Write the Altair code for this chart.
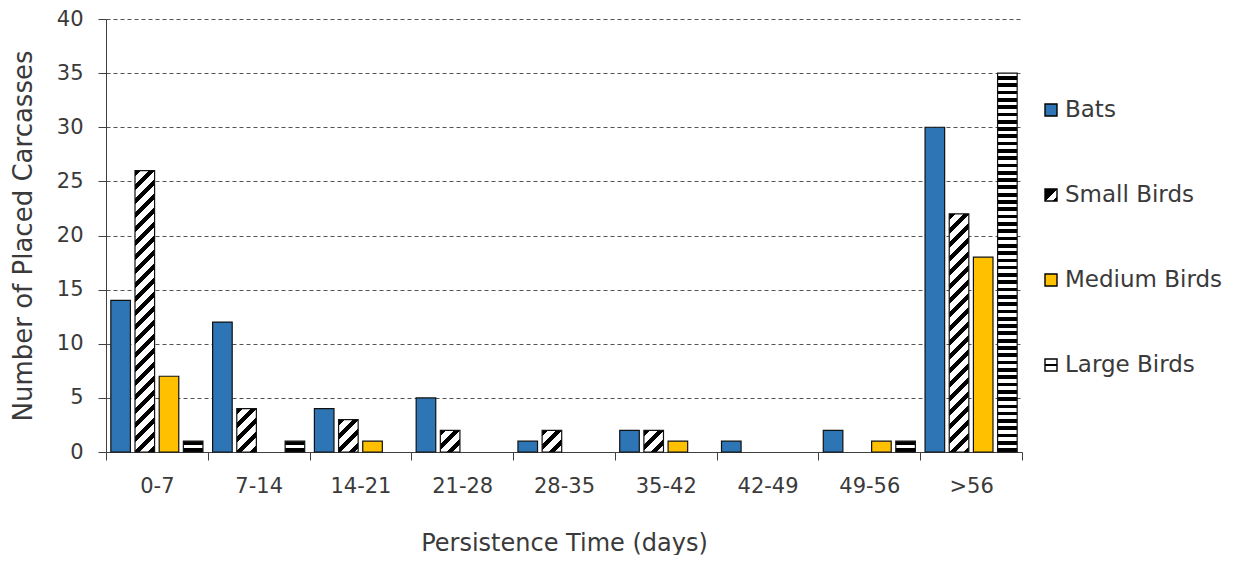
import math
import altair as alt
import pandas as pd

# ---------------- data ----------------
categories = ["0-7", "7-14", "14-21", "21-28", "28-35", "35-42", "42-49", "49-56", ">56"]
series = ["Bats", "Small Birds", "Medium Birds", "Large Birds"]
bats = [14, 12, 4, 5, 1, 2, 1, 2, 30]
small_birds = [26, 4, 3, 2, 2, 2, 0, 0, 22]
medium_birds = [7, 0, 1, 0, 0, 1, 0, 1, 18]
large_birds = [1, 1, 0, 0, 0, 0, 0, 1, 35]
y_ticks = [0, 5, 10, 15, 20, 25, 30, 35, 40]

values_by_series = {
    "Bats": bats,
    "Small Birds": small_birds,
    "Medium Birds": medium_birds,
    "Large Birds": large_birds,
}
rows = []
for s in series:
    for c, v in zip(categories, values_by_series[s]):
        rows.append({"category": c, "series": s, "value": v, "key": s + "|" + c})
df = pd.DataFrame(rows)
legend_df = pd.DataFrame({"series": series})

# ---------------- layout / style ----------------
FONT = "DejaVu Sans"
TXT = "#3a3a3a"
W, H = 916, 433
YMAX = 40
PAD_IN, PAD_OUT = 0.19, 0.2
BLUE = "#2E75B6"
GOLD = "#FFC000"
STROKE = "#111111"

step_x = W / len(categories)
step_o = step_x / (len(series) - PAD_IN + 2 * PAD_OUT)
BW = step_o * (1 - PAD_IN)  # bar width in px


def stripe_stops(length, period, black, from_end=False):
    """Hard-edged black/white stops along a gradient of given pixel length."""
    intervals = []
    k = 0
    while True:
        if from_end:
            a = length - black - k * period
            b = a + black
            if b <= 0:
                break
        else:
            a = k * period
            b = a + black
            if a >= length:
                break
        intervals.append((max(a, 0.0), min(b, length)))
        k += 1
    edges = sorted({0.0, float(length)} | {e for iv in intervals for e in iv})
    stops = []
    for a, b in zip(edges[:-1], edges[1:]):
        mid = (a + b) / 2
        col = "#000000" if any(x0 <= mid <= x1 for x0, x1 in intervals) else "#ffffff"
        stops.append({"offset": round(a / length, 5), "color": col})
        stops.append({"offset": round(b / length, 5), "color": col})
    return stops


def diag_fill(value):
    w = BW
    h = value * H / YMAX
    L = w + h
    d = w * w + h * h
    return {
        "gradient": "linear",
        "x1": 0, "y1": 0,
        "x2": round(w * L / d, 6), "y2": round(h * L / d, 6),
        "stops": stripe_stops(L, 14.0, 6.0),
    }


def horiz_fill(value):
    h = value * H / YMAX
    return {
        "gradient": "linear",
        "x1": 0, "y1": 0, "x2": 0, "y2": 1,
        "stops": stripe_stops(h, 7.3, 3.7, from_end=True),
    }


x_enc = alt.X(
    "category:N",
    sort=categories,
    scale=alt.Scale(domain=categories, paddingInner=0, paddingOuter=0),
    axis=alt.Axis(
        title="Persistence Time (days)",
        tickBand="extent",
        labelAngle=0,
        tickSize=8,
        labelPadding=15,
        labelFontSize=21,
        titleFontSize=24,
        titlePadding=35,
        domainColor="#404040",
        tickColor="#404040",
        grid=False,
    ),
)
xo_enc = alt.XOffset(
    "series:N",
    scale=alt.Scale(domain=series, paddingInner=PAD_IN, paddingOuter=PAD_OUT),
)
y_enc = alt.Y(
    "value:Q",
    scale=alt.Scale(domain=[0, YMAX], nice=False),
    axis=alt.Axis(
        title="Number of Placed Carcasses",
        values=y_ticks,
        grid=True,
        gridDash=[4, 3],
        gridColor="#555555",
        gridWidth=1,
        tickSize=8,
        labelPadding=15,
        labelFontSize=21,
        titleFontSize=26,
        titlePadding=20,
        domainColor="#404040",
        tickColor="#404040",
    ),
)

base = alt.Chart(df).encode(x=x_enc, xOffset=xo_enc, y=y_enc)
bar_kw = dict(stroke=STROKE, strokeWidth=1.2)

layers = [
    base.mark_bar(fill=BLUE, **bar_kw).transform_filter(
        "datum.series == 'Bats' && datum.value > 0"),
    base.mark_bar(fill=GOLD, **bar_kw).transform_filter(
        "datum.series == 'Medium Birds' && datum.value > 0"),
]
for c, v in zip(categories, small_birds):
    if v > 0:
        layers.append(
            base.mark_bar(fill=diag_fill(v), **bar_kw).transform_filter(
                alt.datum.key == "Small Birds|" + c))
for c, v in zip(categories, large_birds):
    if v > 0:
        layers.append(
            base.mark_bar(fill=horiz_fill(v), **bar_kw).transform_filter(
                alt.datum.key == "Large Birds|" + c))

bars = alt.layer(*layers)

# ---------------- manual legend ----------------
legend_fills = {
    "Bats": BLUE,
    "Small Birds": {
        "gradient": "linear", "x1": 0, "y1": 0, "x2": 1, "y2": 1,
        "stops": [
            {"offset": 0, "color": "#000000"}, {"offset": 0.5, "color": "#000000"},
            {"offset": 0.5, "color": "#ffffff"}, {"offset": 0.82, "color": "#ffffff"},
            {"offset": 0.82, "color": "#000000"}, {"offset": 1, "color": "#000000"},
        ],
    },
    "Medium Birds": GOLD,
    "Large Birds": {
        "gradient": "linear", "x1": 0, "y1": 0, "x2": 0, "y2": 1,
        "stops": [
            {"offset": 0, "color": "#ffffff"}, {"offset": 0.4, "color": "#ffffff"},
            {"offset": 0.4, "color": "#000000"}, {"offset": 0.62, "color": "#000000"},
            {"offset": 0.62, "color": "#ffffff"}, {"offset": 1, "color": "#ffffff"},
        ],
    },
}
leg_y = alt.Y("series:N", scale=alt.Scale(type="point", domain=series, range=[91, 346], padding=0), axis=None)
leg_base = alt.Chart(legend_df).encode(y=leg_y)
leg_layers = []
for s in series:
    leg_layers.append(
        leg_base.mark_square(size=144, fill=legend_fills[s], stroke="#000000",
                             strokeWidth=1.4, opacity=1, filled=True)
        .encode(x=alt.value(945))
        .transform_filter(alt.datum.series == s))
leg_layers.append(
    leg_base.mark_text(align="left", baseline="middle", font=FONT, fontSize=23, color=TXT)
    .encode(x=alt.value(959), text="series:N"))
legend = alt.layer(*leg_layers)

chart = (
    alt.layer(bars, legend)
    .resolve_scale(y="independent")
    .properties(
        width=W,
        height=H,
        autosize=alt.AutoSizeParams(type="none"),
        padding={"left": 98, "top": 11, "right": 210, "bottom": 103},
    )
    .configure_view(stroke=None)
    .configure_axis(
        labelFont=FONT,
        titleFont=FONT,
        labelColor=TXT,
        titleColor=TXT,
        titleFontWeight="normal",
    )
)

chart.save("out.html", embed_options={"renderer": "svg", "actions": False})
